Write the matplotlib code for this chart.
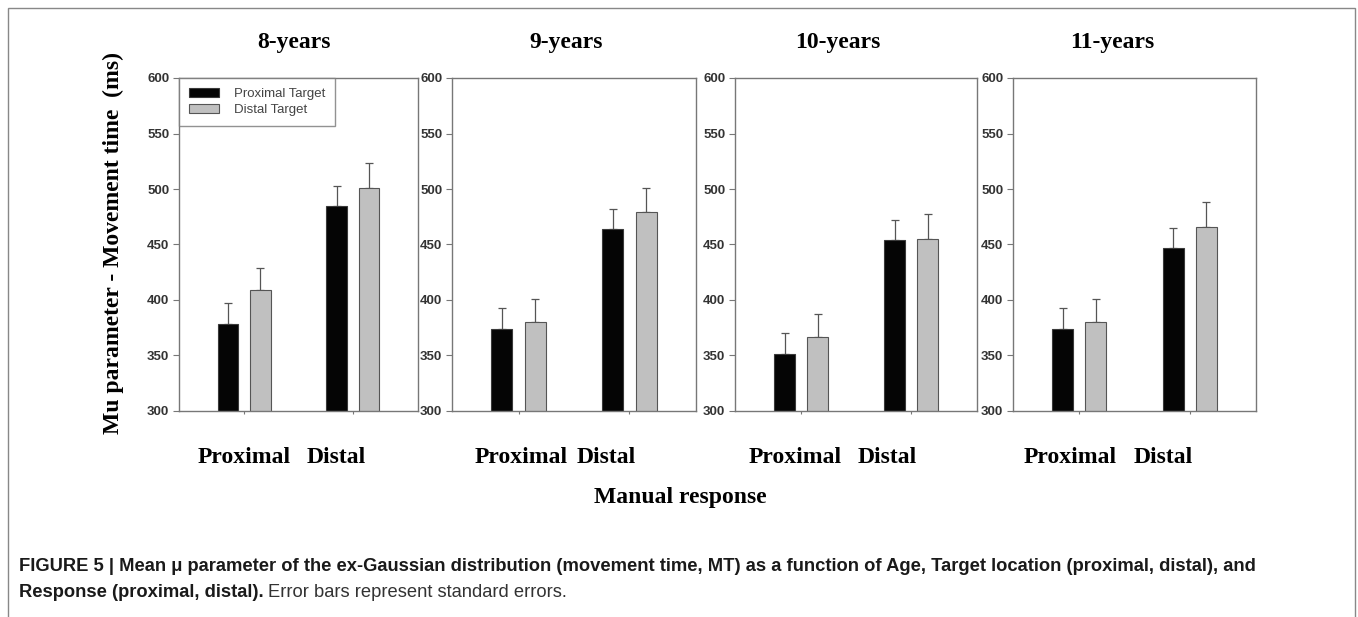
import matplotlib
matplotlib.use("Agg")
import matplotlib.pyplot as plt
from matplotlib.patches import Rectangle
import numpy as np

# ---------------- data ----------------
ages = ["8-years", "9-years", "10-years", "11-years"]
responses = ["Proximal", "Distal"]
series = ["Proximal Target", "Distal Target"]

# means [proximal response, distal response] for each age
proximal_target = [[378, 485], [374, 464], [351, 454], [374, 447]]
distal_target = [[409, 501], [380, 479], [367, 455], [380, 466]]
# standard errors
proximal_target_se = [[19, 18], [19, 18], [19, 18], [19, 18]]
distal_target_se = [[20, 22.5], [20.5, 21.5], [20, 22.5], [20.5, 22.5]]

yticks = [300, 350, 400, 450, 500, 550, 600]

# ---------------- layout ----------------
W, H = 1358, 617
fig = plt.figure(figsize=(W / 100, H / 100), dpi=100)

def fx(px):
    return px / W

def fy(py):
    return 1 - py / H

serif = "Liberation Serif"
sans = "Liberation Sans"

panels_px = [(179, 418), (452, 696), (735, 977), (1013, 1256)]
title_x = [294, 566, 838, 1112]
cat_x = [(244, 336), (521, 606), (795, 887), (1070, 1163)]
top_px, bot_px = 78, 411

black = "#050505"
grey = "#c0c0c0"
edge = "#3a3a3a"
spine_c = "#777777"

x = np.arange(len(responses))
off = 0.15
bw = 0.19

for i, (l, r) in enumerate(panels_px):
    ax = fig.add_axes([fx(l), fy(bot_px), fx(r - l), (bot_px - top_px) / H])
    m1 = proximal_target[i]
    m2 = distal_target[i]
    e1 = proximal_target_se[i]
    e2 = distal_target_se[i]
    ax.bar(x - off, m1, bw, color=black, edgecolor=edge, linewidth=0.8,
           label=series[0], zorder=2)
    ax.bar(x + off, m2, bw, color=grey, edgecolor="#555555", linewidth=0.8,
           label=series[1], zorder=2)
    ax.errorbar(x - off, m1, yerr=[np.zeros(len(e1)), e1], fmt="none",
                ecolor="#555555", elinewidth=0.9, capsize=3, capthick=0.9, zorder=1)
    ax.errorbar(x + off, m2, yerr=[np.zeros(len(e2)), e2], fmt="none",
                ecolor="#555555", elinewidth=0.9, capsize=3, capthick=0.9, zorder=1)
    ax.set_ylim(300, 600)
    ax.set_xlim(-0.6, 1.6)
    ax.set_yticks(yticks)
    ax.set_yticklabels([str(t) for t in yticks], fontsize=9.5, fontweight="bold",
                       family=sans, color="#333333")
    ax.set_xticks(x)
    ax.set_xticklabels([])
    ax.tick_params(axis="y", direction="out", length=4, width=0.8, color=spine_c, pad=3)
    ax.tick_params(axis="x", direction="out", length=2.5, width=0.8, color=spine_c)
    for s in ax.spines.values():
        s.set_color(spine_c)
        s.set_linewidth(1.0)
    fig.text(fx(title_x[i]), fy(48), ages[i], ha="center", va="baseline",
             family=serif, fontweight="bold", fontsize=17)
    for j in range(len(responses)):
        fig.text(fx(cat_x[i][j]), fy(463), responses[j], ha="center", va="baseline",
                 family=serif, fontweight="bold", fontsize=17)
    if i == 0:
        leg = ax.legend(loc="upper left", borderaxespad=0,
                        prop={"family": sans, "size": 9.5}, frameon=True,
                        fancybox=False, handlelength=2.3, handleheight=0.7,
                        borderpad=0.75, labelspacing=0.3, handletextpad=1.1)
        leg.get_frame().set_edgecolor(spine_c)
        leg.get_frame().set_linewidth(1.0)
        for t in leg.get_texts():
            t.set_color("#444444")

fig.text(fx(113), fy(243), "Mu parameter - Movement time  (ms)", rotation=90,
         ha="center", va="center", family=serif, fontweight="bold", fontsize=17)
fig.text(fx(680), fy(497), "Manual response", ha="center", va="center",
         family=serif, fontweight="bold", fontsize=17)

# outer border
fig.add_artist(Rectangle((fx(8), fy(640)), fx(1355 - 8), (640 - 8) / H,
                         transform=fig.transFigure, fill=False,
                         edgecolor="#888888", linewidth=1.0))

# caption
cap1 = ("FIGURE 5 | Mean \u03bc parameter of the ex-Gaussian distribution (movement time, MT) "
        "as a function of Age, Target location (proximal, distal), and")
fig.text(fx(19), fy(571), cap1, ha="left", va="baseline", family=sans,
         fontweight="bold", fontsize=13.2, color="#1a1a1a")
t_b = fig.text(fx(19), fy(597), "Response (proximal, distal).", ha="left", va="baseline",
               family=sans, fontweight="bold", fontsize=13.2, color="#1a1a1a")
fig.canvas.draw()
bb = t_b.get_window_extent(renderer=fig.canvas.get_renderer())
fig.text(bb.x1 / W + fx(4), fy(597), "Error bars represent standard errors.", ha="left",
         va="baseline", family=sans, fontweight="normal", fontsize=13.2, color="#333333")

fig.savefig("out.png", dpi=100)
